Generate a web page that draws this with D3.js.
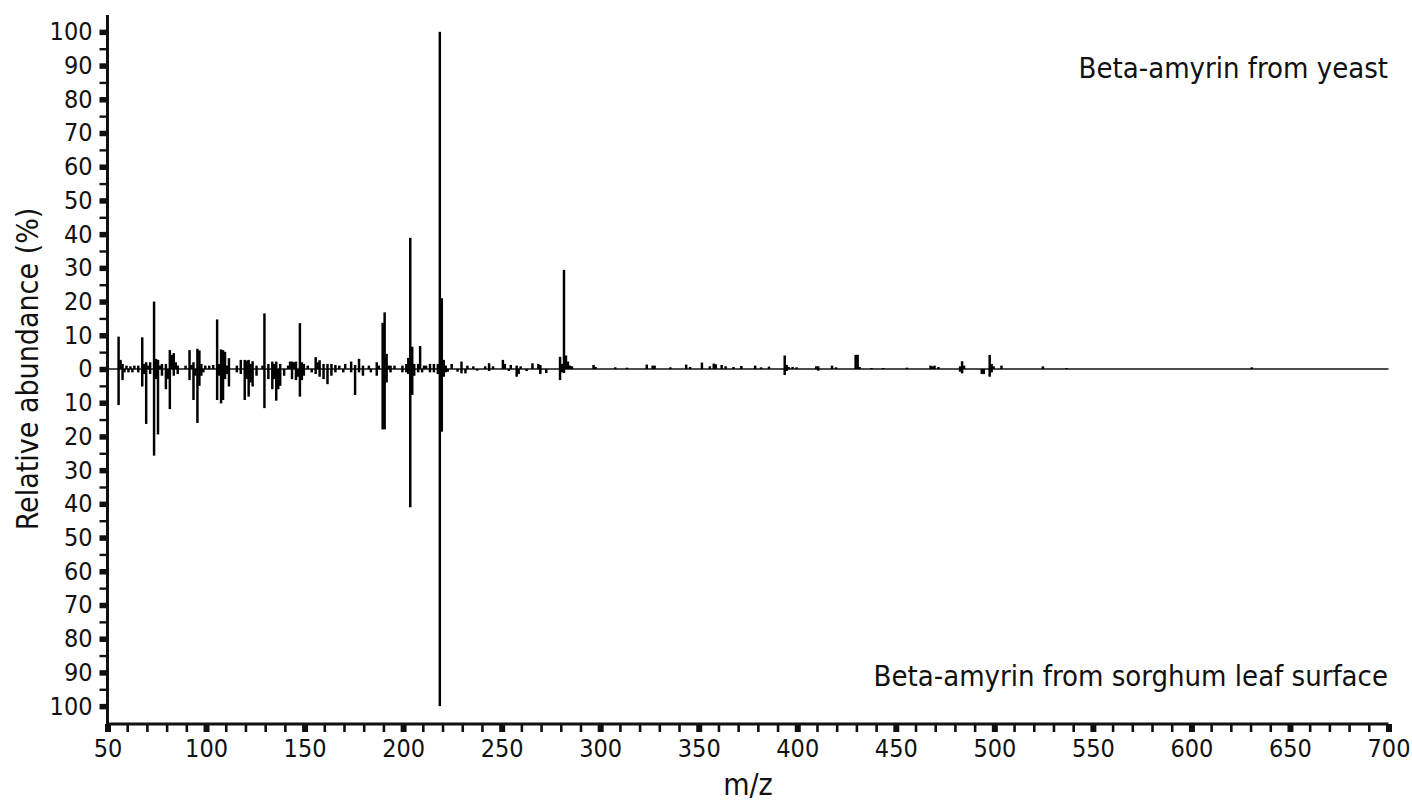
<!DOCTYPE html>
<html>
<head>
<meta charset="utf-8">
<script src="https://cdn.jsdelivr.net/npm/d3@7"></script>
<style>
  body { margin: 0; background: #fff; }
  svg text { font-family: "Liberation Sans Narrow", "DejaVu Sans Condensed", sans-serif; fill: #111; }
</style>
</head>
<body>
<div class="chart"></div>
<script>
// yeast spectrum (drawn upward)
var yeastMz = [55,56,57,59,61,63,65,67,68,69,70,71,73,74,75,76,77,79,81,82,83,84,85,89,91,92,93,95,96,97,99,101,103,
  105,106,107,108,109,110,111,115,117,119,120,121,122,123,125,128,129,131,133,134,135,137,141,142,143,144,145,147,148,149,
  151,155,156,157,159,161,163,165,167,170,173,175,177,179,182,186,187,189,190,191,192,193,195,199,201,202,203,204,205,207,
  208,210,211,213,215,217,218,219,220,221,224,229,232,235,241,243,245,250,251,254,257,259,265,268,269,279,280,281,282,283,
  284,285,296,297,307,313,323,326,327,335,343,345,351,355,357,358,361,363,367,371,378,381,385,393,394,395,397,399,409,410,
  417,419,429,430,431,437,443,455,467,468,469,471,482,483,484,497,498,499,503,524,536,630];
var yeastAbund = [9.6,2.7,1.5,1,0.8,1,1,9.4,1.5,2,1,2,20,3,2.7,1,1.5,1.5,5.6,4.2,4.7,2,1,1,5.6,1.2,2,6,5.5,1.5,1,1,1.2,
  14.7,1.5,5.8,5.6,5.1,1,3.2,1,2.7,2.7,2.5,2.7,1.5,2.3,1,1,16.5,1.5,2.2,1.5,2.2,1.5,1,2.2,2.2,2,2.2,13.6,2,1.5,
  1,3.5,2,2.6,1.5,1.5,1.5,1.2,1,1.5,2.2,1.2,3,1,1,2,1,13.7,16.8,4.5,1,1,1,1,1.5,3.3,38.9,6.6,1.5,1.5,
  6.8,1,1,1.5,1.5,1.5,100,21,2.7,1,1.5,2.2,1,0.8,0.8,1.7,0.8,2.7,1.5,1.2,1,0.8,1.7,1.5,1.2,3.6,1.5,29.4,4,2.2,
  1,0.8,1.2,0.6,0.5,0.4,1.3,1,1,0.5,1.3,0.6,1.9,0.8,1.6,1.4,1.2,0.8,0.6,0.9,1,0.5,0.7,4,1.2,0.6,0.6,0.5,0.8,0.8,
  1,0.5,4.2,4.2,0.6,0.3,0.3,0.4,1,0.8,1,0.6,0.8,2.3,1,4.2,1.5,0.8,1,0.8,0.3,0.5];

// sorghum leaf surface spectrum (drawn downward)
var sorghumMz = [55,57,58,60,62,65,67,68,69,71,73,74,75,77,79,80,81,83,85,91,93,94,95,96,97,98,105,106,107,108,109,110,111,
  115,117,119,120,121,122,123,125,129,131,133,134,135,136,137,139,143,145,146,147,148,149,153,155,157,159,161,163,165,169,
  173,175,177,179,183,186,189,190,191,193,199,201,202,203,204,205,207,209,213,215,217,218,219,220,221,222,227,229,231,237,
  243,253,257,258,262,269,272,279,280,281,393,394,410,482,483,493,494,497,498];
var sorghumAbund = [10.7,3.3,1,1,1,1,5.2,1.5,16.3,1.5,25.7,3,19.4,2,6,3,11.9,2,1.5,3.3,9.2,2,16,5,2,1,9.2,2,10.2,9.2,3,1.5,5.2,
  1,1.5,9.2,3,8.2,4,5.2,2,11.6,3,6,3,9.4,6,5,2,3,3.3,2.3,8.2,3.3,2,1,1.5,2.3,3,4.5,2,1,1,
  1,7.7,1,2,1,2,17.9,17.9,4,1,1,1,1.5,41,7.7,2,1,1,1,1,1.5,100,18.6,2.3,1,0.8,0.8,1.3,1.3,0.5,
  0.6,0.6,2.3,1.5,0.6,1.5,1.2,3.3,1,1.2,1.8,0.6,0.5,0.8,1.3,1.5,1.5,2.3,1];

var xMajor = d3.range(50, 701, 50);
var xMinor = d3.range(50, 701, 10).filter(function(d) { return d % 50 !== 0; });
var yMajor = d3.range(-100, 101, 10);
var yMinor = d3.range(-95, 100, 10);

var width = 1412, height = 802;

var svg = d3.select(".chart").append("svg")
    .attr("width", width)
    .attr("height", height);

var x = d3.scaleLinear().domain([50, 700]).range([107.5, 1388.5]);
var y = d3.scaleLinear().domain([-105.3, 105]).range([724, 15]);

function styleAxis(g, w) {
  g.select(".domain").remove();
  g.selectAll(".tick line").attr("stroke", "#111").attr("stroke-width", w);
  g.selectAll(".tick text").style("font-size", "25px");
}

// minor ticks
svg.append("g")
    .attr("transform", "translate(0," + 724 + ")")
    .call(d3.axisBottom(x).tickValues(xMinor).tickSize(8).tickFormat(""))
    .call(styleAxis, 2.6);
svg.append("g")
    .attr("transform", "translate(" + 107.5 + ",0)")
    .call(d3.axisLeft(y).tickValues(yMinor).tickSize(8).tickFormat(""))
    .call(styleAxis, 2.4);

// major ticks with labels
svg.append("g")
    .attr("transform", "translate(0," + 724 + ")")
    .call(d3.axisBottom(x).tickValues(xMajor).tickSize(8).tickPadding(7))
    .call(styleAxis, 6);
svg.append("g")
    .attr("transform", "translate(" + 107.5 + ",0)")
    .call(d3.axisLeft(y).tickValues(yMajor).tickSize(8).tickPadding(7)
      .tickFormat(function(d) { return Math.abs(d); }))
    .call(styleAxis, 5.5);

// zero line
svg.append("line")
    .attr("x1", x(50)).attr("x2", x(700))
    .attr("y1", y(0)).attr("y2", y(0))
    .attr("stroke", "#111").attr("stroke-width", 1.3);

// bars
var bw = x(51) - x(50) + 0.5;
svg.append("g").selectAll("rect")
    .data(d3.zip(yeastMz, yeastAbund))
    .enter().append("rect")
    .attr("x", function(d) { return x(d[0]); })
    .attr("width", bw)
    .attr("y", function(d) { return y(d[1]); })
    .attr("height", function(d) { return y(0) - y(d[1]); })
    .attr("fill", "#000");

svg.append("g").selectAll("rect")
    .data(d3.zip(sorghumMz, sorghumAbund))
    .enter().append("rect")
    .attr("x", function(d) { return x(d[0]); })
    .attr("width", bw)
    .attr("y", y(0))
    .attr("height", function(d) { return y(-d[1]) - y(0); })
    .attr("fill", "#000");

// axis lines
svg.append("line")
    .attr("x1", 107.5).attr("x2", 107.5)
    .attr("y1", y(105)).attr("y2", 725.5)
    .attr("stroke", "#111").attr("stroke-width", 3);
svg.append("line")
    .attr("x1", 106).attr("x2", x(700))
    .attr("y1", 724).attr("y2", 724)
    .attr("stroke", "#111").attr("stroke-width", 3);

// labels
svg.append("text")
    .attr("x", 1388).attr("y", 78)
    .attr("text-anchor", "end")
    .style("font-size", "29px")
    .text("Beta-amyrin from yeast");
svg.append("text")
    .attr("x", 1388).attr("y", 686)
    .attr("text-anchor", "end")
    .style("font-size", "29px")
    .text("Beta-amyrin from sorghum leaf surface");
svg.append("text")
    .attr("x", x(375)).attr("y", 795)
    .attr("text-anchor", "middle")
    .style("font-size", "30px")
    .text("m/z");
svg.append("text")
    .attr("transform", "translate(38," + y(0) + ") rotate(-90)")
    .attr("text-anchor", "middle")
    .style("font-size", "30px")
    .text("Relative abundance (%)");
</script>
</body>
</html>
